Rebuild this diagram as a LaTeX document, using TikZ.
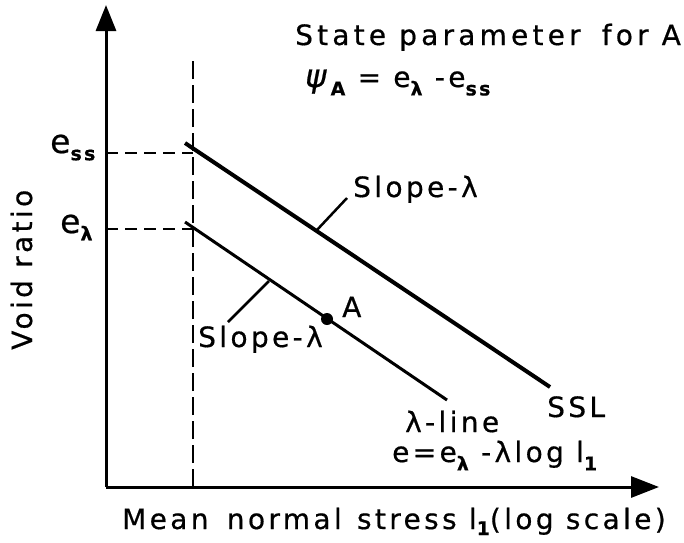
\documentclass[tikz,border=0pt]{standalone}
\usepackage{fontspec}
\setmainfont{DejaVu Sans}[LetterSpace=12,FakeBold=0.6]
\newfontfamily\labfont{DejaVu Sans}[LetterSpace=12,FakeBold=0.6]
\newfontfamily\titlefont{DejaVu Sans}[LetterSpace=15,FakeBold=0.6]
\usetikzlibrary{arrows.meta}
\newcommand{\lsub}[1]{\raisebox{-0.3em}{\fontsize{19}{19}\selectfont\bfseries #1}}
\newcommand{\lsubs}[1]{\raisebox{-0.22em}{\fontsize{19}{19}\selectfont\bfseries #1}}
\tikzset{
  lbl/.style={inner sep=0pt, anchor=base west, font=\labfont\fontsize{28}{30}\selectfont},
  biglbl/.style={inner sep=0pt, anchor=base west, font=\labfont\fontsize{33}{34}\selectfont},
  axis/.style={line width=3pt},
  guide/.style={line width=2pt, dash pattern=on 12pt off 7pt},
  vguide/.style={line width=2pt, dash pattern=on 18pt off 6pt},
  ssl/.style={line width=4pt},
  lline/.style={line width=3pt},
  leader/.style={line width=2.5pt},
}
\begin{document}
\begin{tikzpicture}[x=1pt,y=-1pt]
\fill[white] (0,0) rectangle (684,542);
\useasboundingbox (0,0) rectangle (684,542);
% coordinates
\coordinate (O) at (106,487);
\coordinate (Ytip) at (106,5);
\coordinate (Xtip) at (659,487);
\coordinate (Vtop) at (193,56);
\coordinate (Vbot) at (193,487);
\coordinate (Ess) at (106,153);
\coordinate (EssV) at (193,153);
\coordinate (El) at (106,229);
\coordinate (ElV) at (193,229);
\coordinate (SSLs) at (185,143);
\coordinate (SSLe) at (550,387);
\coordinate (Ls) at (185,222);
\coordinate (Le) at (447,400);
\coordinate (U1) at (347,198);
\coordinate (U2) at (316,231);
\coordinate (L1) at (228,322);
\coordinate (L2) at (269,281);
% axes
\draw[axis,-{Triangle[length=26pt,width=20pt]}] (O) -- (Ytip);
\draw[axis,-{Triangle[length=28pt,width=21pt]}] (O) -- (Xtip);
% guides
\draw[vguide] (Vbot) -- (Vtop);
\draw[guide] (Ess) -- (EssV);
\draw[guide] (El) -- (ElV);
% lines
\draw[ssl] (SSLs) -- (SSLe);
\draw[lline] (Ls) -- (Le);
\node[circle, fill=black, inner sep=0pt, minimum size=12pt] (A) at (327,319) {};
% leaders
\draw[leader] (U1) -- (U2);
\draw[leader] (L1) -- (L2);
% labels
\node[lbl, font=\titlefont\fontsize{28}{30}\selectfont] (title) at (295,45) {State parameter\hspace{8pt} for A};
\node[lbl] (psi) at (305,87) {{\fontsize{32}{32}\selectfont\textit{ψ}}\lsub{A} = e\lsub{λ} -e\lsub{ss}};
\node[lbl] (slopeU) at (353,197) {Slope-λ};
\node[lbl] (slopeL) at (198,347) {Slope-λ};
\node[lbl] (Alab) at (342,317) {A};
\node[lbl] (ssllab) at (547,417) {SSL};
\node[lbl] (llab) at (405,432) {λ-line};
\node[lbl] (eq) at (392,462) {e=e\lsub{λ} -λlog l\lsub{1}};
\node[lbl] (xlab) at (122,529) {Mean\hspace{6pt} normal\hspace{3pt} stress l\lsubs{1}(log scale)};
\node[lbl, rotate=90] (ylab) at (32,350) {Void ratio};
\node[biglbl] (esslab) at (50,153) {e\lsubs{ss}};
\node[biglbl] (ellab) at (60,233) {e\lsubs{λ}};
\end{tikzpicture}
\end{document}
